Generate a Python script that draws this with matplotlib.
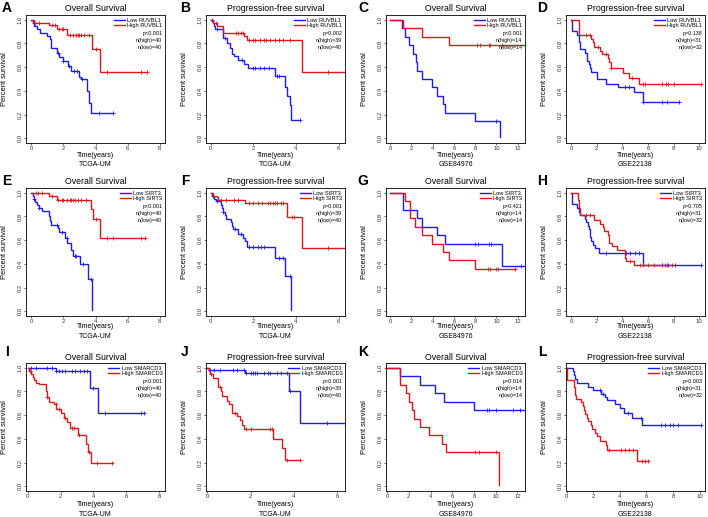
import numpy as np
import matplotlib
matplotlib.use("Agg")
import matplotlib.pyplot as plt

plt.rcParams["font.family"] = ["Liberation Sans", "DejaVu Sans"]

# ---- panel A: TCGA-UM OS, RUVBL1
a_low_t = [0, 0.1, 0.2, 0.35, 0.55, 1.0, 1.15, 1.25, 1.6, 1.75, 1.95, 2.3, 2.5, 3.0, 3.1, 3.5, 3.6, 3.75]
a_low_s = [1.0, 0.975, 0.95, 0.925, 0.89, 0.86, 0.835, 0.76, 0.72, 0.685, 0.65, 0.61, 0.565, 0.52, 0.50, 0.40, 0.30, 0.21]
a_low_c = [0.15, 1.65, 2.0, 2.35, 2.65, 2.85, 3.15, 4.2, 5.1]
a_high_t = [0, 0.2, 1.1, 1.6, 2.2, 3.8, 4.3]
a_high_s = [1.0, 0.975, 0.955, 0.92, 0.875, 0.75, 0.56]
a_high_c = [0.25, 0.5, 1.3, 1.5, 1.75, 1.9, 2.0, 2.4, 2.6, 2.8, 2.9, 3.0, 3.1, 3.3, 3.6, 4.0, 4.7, 6.8, 7.2]

# ---- panel B: TCGA-UM PFS, RUVBL1
b_low_t = [0, 0.1, 0.15, 0.2, 0.6, 0.75, 0.9, 1.0, 1.1, 1.3, 1.55, 1.75, 3.0, 3.5, 3.6, 3.7, 3.75]
b_low_s = [1.0, 0.975, 0.95, 0.92, 0.85, 0.80, 0.76, 0.71, 0.69, 0.66, 0.63, 0.59, 0.525, 0.43, 0.36, 0.28, 0.15]
b_low_c = [0.05, 0.3, 0.65, 1.45, 2.0, 2.1, 2.3, 2.5, 2.75, 3.1, 3.2, 4.2]
b_high_t = [0, 0.1, 0.3, 0.6, 1.55, 1.7, 4.3]
b_high_s = [1.0, 0.975, 0.95, 0.89, 0.86, 0.825, 0.555]
b_high_c = [0.25, 1.2, 1.3, 1.4, 1.5, 1.8, 2.0, 2.1, 2.3, 2.5, 2.6, 2.8, 3.0, 3.2, 3.4, 3.7, 5.5, 6.4]

# ---- panel C: GSE84976 OS, RUVBL1
c_low_t = [0, 1.1, 1.4, 1.8, 2.1, 2.4, 2.5, 3.0, 3.9, 4.4, 5.0, 5.2, 8.0, 10.3]
c_low_s = [1.0, 0.929, 0.857, 0.786, 0.714, 0.643, 0.571, 0.5, 0.429, 0.357, 0.286, 0.214, 0.143, 0.01]
c_low_c = [10.0]
c_high_t = [0, 1.2, 3.0, 5.5]
c_high_s = [1.0, 0.929, 0.857, 0.786]
c_high_c = [8.2, 8.5, 9.3, 9.4, 10.5, 13.0]

# ---- panel D: GSE22138 PFS, RUVBL1
d_low_t = [0, 0.05, 0.5, 0.6, 0.65, 0.7, 1.1, 1.25, 1.4, 1.5, 1.6, 2.0, 2.75, 3.7, 4.9, 5.6]
d_low_s = [1.0, 0.906, 0.875, 0.84, 0.81, 0.75, 0.72, 0.656, 0.625, 0.59, 0.56, 0.50, 0.46, 0.43, 0.39, 0.31]
d_low_c = [4.2, 4.5, 5.6, 7.1, 7.5, 8.4]
d_high_t = [0, 0.6, 0.65, 1.6, 1.7, 1.8, 2.3, 2.4, 2.9, 3.0, 3.1, 4.1, 4.5, 5.3]
d_high_s = [1.0, 0.935, 0.87, 0.84, 0.81, 0.77, 0.74, 0.71, 0.68, 0.645, 0.59, 0.55, 0.51, 0.46]
d_high_c = [1.2, 1.5, 2.1, 2.7, 3.1, 4.8, 5.6, 5.8, 7.1, 7.4, 7.6, 8.0, 10.1]

# ---- panel E: TCGA-UM OS, SIRT3
e_low_t = [0, 0.1, 0.15, 0.25, 0.35, 0.5, 0.65, 1.1, 1.2, 1.25, 1.65, 1.75, 2.1, 2.25, 2.5, 2.6, 3.05, 3.55, 3.8]
e_low_s = [1.0, 0.975, 0.95, 0.925, 0.90, 0.875, 0.85, 0.80, 0.76, 0.73, 0.70, 0.665, 0.62, 0.58, 0.52, 0.47, 0.40, 0.27, 0.01]
e_low_c = [0.2, 0.5, 1.6, 1.9, 2.2, 2.7, 2.8, 3.2, 3.7]
e_high_t = [0, 1.1, 1.6, 3.7, 3.85, 4.3]
e_high_s = [1.0, 0.97, 0.94, 0.86, 0.775, 0.615]
e_high_c = [0.3, 0.4, 0.7, 1.3, 1.7, 1.9, 2.0, 2.2, 2.4, 2.5, 2.6, 2.7, 2.9, 3.1, 3.4, 4.0, 4.7, 5.1, 6.8, 7.1]

# ---- panel F: TCGA-UM PFS, SIRT3
f_low_t = [0, 0.05, 0.15, 0.25, 0.5, 0.55, 0.6, 0.65, 0.7, 0.95, 1.0, 1.05, 1.3, 1.5, 1.6, 1.7, 3.0, 3.5, 3.75]
f_low_s = [1.0, 0.975, 0.95, 0.93, 0.90, 0.87, 0.84, 0.81, 0.78, 0.75, 0.72, 0.69, 0.65, 0.62, 0.59, 0.545, 0.45, 0.30, 0.01]
f_low_c = [0.1, 0.3, 0.6, 1.15, 1.4, 1.8, 2.0, 2.2, 2.35, 2.5, 3.2, 3.4, 3.7]
f_high_t = [0, 0.1, 0.3, 0.35, 1.6, 3.6, 4.3]
f_high_s = [1.0, 0.975, 0.96, 0.94, 0.91, 0.795, 0.53]
f_high_c = [0.5, 0.7, 1.1, 1.3, 1.8, 2.0, 2.2, 2.4, 2.7, 2.8, 2.9, 3.0, 3.1, 3.3, 3.4, 3.8, 3.9, 5.5, 6.4]

# ---- panel G: GSE84976 OS, SIRT3
g_low_t = [0, 1.2, 2.5, 3.0, 4.4, 5.2, 10.5]
g_low_s = [1.0, 0.857, 0.786, 0.714, 0.643, 0.571, 0.381]
g_low_c = [8.0, 8.3, 9.3, 9.5, 12.3, 13.0]
g_high_t = [0, 1.4, 1.9, 2.3, 3.0, 3.9, 5.0, 5.5, 8.0]
g_high_s = [1.0, 0.929, 0.786, 0.714, 0.643, 0.571, 0.50, 0.43, 0.36]
g_high_c = [9.2, 9.4, 10.0, 10.2, 11.8]

# ---- panel H: GSE22138 PFS, SIRT3
h_low_t = [0, 0.05, 0.5, 0.6, 0.7, 1.1, 1.2, 1.3, 1.4, 1.5, 1.6, 1.7, 1.9, 2.2, 5.6]
h_low_s = [1.0, 0.906, 0.875, 0.84, 0.81, 0.78, 0.75, 0.72, 0.69, 0.63, 0.59, 0.56, 0.53, 0.49, 0.39]
h_low_c = [2.7, 4.3, 4.6, 5.0, 5.3, 7.1, 7.3, 7.6, 8.1, 10.1]
h_high_t = [0, 0.55, 0.6, 0.7, 1.8, 2.3, 2.5, 2.6, 2.9, 3.0, 3.2, 3.6, 4.2, 4.3, 4.9]
h_high_s = [1.0, 0.935, 0.87, 0.81, 0.77, 0.74, 0.71, 0.675, 0.645, 0.58, 0.55, 0.52, 0.45, 0.42, 0.39]
h_high_c = [1.2, 1.5, 4.6, 5.4, 5.6, 6.0, 6.5, 7.1, 7.5, 7.9]

# ---- panel I: TCGA-UM OS, SMARCD3
i_low_t = [0, 1.7, 3.8, 4.3]
i_low_s = [1.0, 0.97, 0.83, 0.62]
i_low_c = [0.2, 0.5, 1.2, 1.5, 1.7, 1.9, 2.1, 2.3, 2.7, 2.9, 3.2, 3.4, 3.6, 4.0, 4.7, 6.9, 7.1]
i_high_t = [0, 0.1, 0.2, 0.3, 0.4, 0.5, 0.7, 1.1, 1.2, 1.3, 1.6, 1.75, 2.0, 2.2, 2.4, 2.6, 3.05, 3.55, 3.65, 3.85]
i_high_s = [1.0, 0.975, 0.95, 0.925, 0.90, 0.875, 0.86, 0.80, 0.75, 0.71, 0.69, 0.65, 0.62, 0.58, 0.54, 0.49, 0.43, 0.36, 0.29, 0.20]
i_high_c = [0.15, 1.2, 1.7, 1.9, 2.3, 2.7, 2.8, 3.1, 3.7, 4.2, 5.1]

# ---- panel J: TCGA-UM PFS, SMARCD3
j_low_t = [0, 0.1, 1.75, 3.75, 4.3]
j_low_s = [1.0, 0.985, 0.955, 0.80, 0.535]
j_low_c = [0.15, 0.3, 0.6, 1.2, 1.4, 1.7, 1.8, 2.0, 2.1, 2.2, 2.3, 2.6, 2.8, 2.9, 3.2, 3.4, 3.7, 3.8, 5.5, 6.4]
j_high_t = [0, 0.1, 0.15, 0.25, 0.5, 0.65, 0.7, 0.9, 1.0, 1.15, 1.4, 1.5, 1.6, 1.7, 3.05, 3.45, 3.6]
j_high_s = [1.0, 0.975, 0.95, 0.91, 0.84, 0.80, 0.76, 0.72, 0.69, 0.62, 0.59, 0.56, 0.52, 0.48, 0.40, 0.32, 0.22]
j_high_c = [0.2, 0.6, 1.3, 1.8, 2.0, 2.9, 3.0, 3.7, 4.3]

# ---- panel K: GSE84976 OS, SMARCD3
k_low_t = [0, 1.2, 3.0, 4.4, 5.2, 8.0]
k_low_s = [1.0, 0.929, 0.857, 0.786, 0.714, 0.643]
k_low_c = [9.2, 9.4, 10.0, 11.6, 12.2, 13.0]
k_high_t = [0, 1.2, 1.7, 2.0, 2.3, 2.5, 3.0, 3.9, 5.1, 5.4, 10.3]
k_high_s = [1.0, 0.857, 0.786, 0.714, 0.643, 0.571, 0.50, 0.43, 0.357, 0.286, 0.01]
k_high_c = [8.1, 8.5, 10.0]

# ---- panel L: GSE22138 PFS, SMARCD3
l_low_t = [0, 0.5, 0.55, 0.65, 0.75, 1.6, 2.0, 2.6, 2.9, 3.0, 3.6, 4.0, 4.3, 4.9, 5.7]
l_low_s = [1.0, 0.97, 0.94, 0.906, 0.875, 0.84, 0.81, 0.78, 0.75, 0.73, 0.69, 0.66, 0.62, 0.58, 0.52]
l_low_c = [2.5, 2.7, 4.6, 5.6, 7.1, 7.4, 7.8, 8.0, 8.4, 10.1]
l_high_t = [0, 0.05, 0.55, 0.65, 0.7, 1.1, 1.2, 1.3, 1.4, 1.5, 1.6, 1.8, 1.9, 2.1, 2.3, 2.5, 2.95, 3.0, 5.3]
l_high_s = [1.0, 0.90, 0.84, 0.77, 0.74, 0.71, 0.68, 0.645, 0.61, 0.58, 0.55, 0.52, 0.48, 0.45, 0.42, 0.38, 0.35, 0.31, 0.21]
l_high_c = [3.2, 4.1, 4.4, 4.7, 5.0, 5.7, 5.9, 6.1]

letters = ["A", "B", "C", "D", "E", "F", "G", "H", "I", "J", "K", "L"]
titles = ["Overall Survival", "Progression-free survival"] * 6
datasets = ["TCGA-UM", "TCGA-UM", "GSE84976", "GSE22138"] * 3
genes = ["RUVBL1"] * 4 + ["SIRT3"] * 4 + ["SMARCD3"] * 4
pvals = ["p<0.001", "p=0.002", "p<0.001", "p=0.138",
         "p<0.001", "p=0.001", "p=0.421", "p=0.705",
         "p<0.001", "p<0.001", "p=0.014", "p=0.003"]
n_high = [40, 39, 14, 31, 40, 39, 14, 31, 40, 39, 14, 31]
n_low = [40, 40, 14, 32, 40, 40, 14, 32, 40, 40, 14, 32]

curves = [
    (a_low_t, a_low_s, a_low_c, a_high_t, a_high_s, a_high_c),
    (b_low_t, b_low_s, b_low_c, b_high_t, b_high_s, b_high_c),
    (c_low_t, c_low_s, c_low_c, c_high_t, c_high_s, c_high_c),
    (d_low_t, d_low_s, d_low_c, d_high_t, d_high_s, d_high_c),
    (e_low_t, e_low_s, e_low_c, e_high_t, e_high_s, e_high_c),
    (f_low_t, f_low_s, f_low_c, f_high_t, f_high_s, f_high_c),
    (g_low_t, g_low_s, g_low_c, g_high_t, g_high_s, g_high_c),
    (h_low_t, h_low_s, h_low_c, h_high_t, h_high_s, h_high_c),
    (i_low_t, i_low_s, i_low_c, i_high_t, i_high_s, i_high_c),
    (j_low_t, j_low_s, j_low_c, j_high_t, j_high_s, j_high_c),
    (k_low_t, k_low_s, k_low_c, k_high_t, k_high_s, k_high_c),
    (l_low_t, l_low_s, l_low_c, l_high_t, l_high_s, l_high_c),
]

xlims = [(-0.32, 8.32), (-0.22, 6.3), (-0.4, 12.7), (-0.38, 10.45),
         (-0.32, 8.32), (-0.22, 6.3), (-0.4, 12.7), (-0.38, 10.45),
         (-0.1, 8.35), (-0.05, 6.35), (-0.1, 12.7), (-0.05, 10.4)]
xmax_tick = [8, 6, 12, 10] * 3

BLUE = "#1c1cf0"
RED = "#e0151b"

W, H = 708, 517
col_left = [26, 206, 386, 566]
col_letter_x = [7, 185, 363, 542]
row_top = [15, 188, 363]
row_letter_y = [8, 181, 352]
ax_w, ax_h = 139, 128
xlab_off = [12, 11, 13]
data_off = [21, 20, 23]
title_off = [7, 6, 6]


def km(ax, t, s, cens, color):
    t = np.asarray(t, float)
    s = np.asarray(s, float)
    c = np.asarray(cens, float)
    last = max(t[-1], c.max())
    line, = ax.step(np.append(t, last), np.append(s, s[-1]), where="post",
                    color=color, lw=1.0, solid_joinstyle="miter")
    cy = s[np.searchsorted(t, c, side="right") - 1]
    ax.plot(c, cy, "+", color=color, ms=3, mew=0.6)
    return line


fig = plt.figure(figsize=(W / 100, H / 100), dpi=100)

for k in range(12):
    r, col = divmod(k, 4)
    left = col_left[col] / W
    bottom = 1 - (row_top[r] + ax_h) / H
    ax = fig.add_axes([left, bottom, ax_w / W, ax_h / H])
    lt, ls, lc, ht, hs, hc = curves[k]
    l1 = km(ax, lt, ls, lc, BLUE)
    l2 = km(ax, ht, hs, hc, RED)
    ax.set_xlim(*xlims[k])
    ax.set_ylim(-0.04, 1.04)
    ax.set_xticks(np.arange(0, xmax_tick[k] + 1, 2))
    ax.set_yticks([0, 0.2, 0.4, 0.6, 0.8, 1.0])
    ax.set_yticklabels(["0.0", "0.2", "0.4", "0.6", "0.8", "1.0"],
                       rotation=90, va="center")
    ax.tick_params(labelsize=4.2, length=1.6, width=0.5, pad=0.6,
                   colors="#333333")
    for sp in ax.spines.values():
        sp.set_linewidth(0.6)

    ax.legend([l1, l2], [f"Low {genes[k]}", f"High {genes[k]}"],
              loc="upper right", fontsize=4.1, frameon=False,
              handlelength=2.0, labelspacing=0.02, handletextpad=0.4,
              borderaxespad=0.25, borderpad=0.2)
    ax.text(0.98, 0.855, pvals[k], transform=ax.transAxes, ha="right",
            va="center", fontsize=3.9)
    ax.text(0.98, 0.80, f"n(high)={n_high[k]}", transform=ax.transAxes,
            ha="right", va="center", fontsize=3.9)
    ax.text(0.98, 0.745, f"n(low)={n_low[k]}", transform=ax.transAxes,
            ha="right", va="center", fontsize=3.9)

    ax.text(0.5, 1 + title_off[r] / ax_h, titles[k], transform=ax.transAxes,
            ha="center", va="center", fontsize=6.3)
    ax.text(-21 / ax_w, 0.5, "Percent survival", transform=ax.transAxes,
            ha="center", va="center", rotation=90, fontsize=5.4)
    ax.text(0.5, -xlab_off[r] / ax_h, "Time(years)", transform=ax.transAxes,
            ha="center", va="center", fontsize=5)
    ax.text(0.5, -data_off[r] / ax_h, datasets[k], transform=ax.transAxes,
            ha="center", va="center", fontsize=5)
    fig.text(col_letter_x[col] / W, 1 - row_letter_y[r] / H, letters[k],
             ha="center", va="center", fontsize=10, fontweight="bold")

fig.savefig("out.png", dpi=100)
